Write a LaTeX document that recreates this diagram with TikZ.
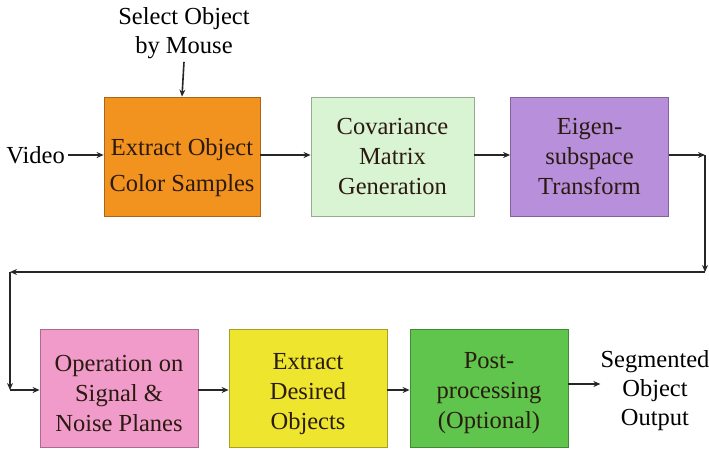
\documentclass[tikz,border=0pt]{standalone}
\usepackage{fontspec}
\setmainfont{Liberation Serif}
\usetikzlibrary{arrows.meta}
\definecolor{cOrange}{HTML}{F2921F}
\definecolor{cLight}{HTML}{D8F4D2}
\definecolor{cPurple}{HTML}{B88FDB}
\definecolor{cPink}{HTML}{F09BC9}
\definecolor{cYellow}{HTML}{EEE52E}
\definecolor{cGreen}{HTML}{5FC54D}
\definecolor{txt}{HTML}{2A1A10}
\tikzset{
  blk/.style={draw=#1!70!black, fill=#1, line width=0.8pt, minimum height=119pt,
    minimum width=158pt, inner sep=0pt},
  boxtxt/.style={align=center, inner sep=0pt, text=txt,
    font=\rmfamily\fontsize{24.5}{30}\selectfont},
  lbl/.style={align=center, inner sep=0pt, font=\rmfamily\fontsize{24.5}{29}\selectfont},
  arr/.style={line width=1.6pt, draw=black!85, -{Stealth[length=7pt,width=6pt]}},
}
\begin{document}
\begin{tikzpicture}[x=1pt,y=-1pt]
\useasboundingbox (0,0) rectangle (709,450);
\node[blk=cOrange, minimum width=156pt,
  label={[boxtxt, font=\rmfamily\fontsize{24.5}{36}\selectfont, yshift=-11pt]center:Extract Object\\Color Samples}] (b1) at (182,156.5) {};
\node[blk=cLight, minimum width=163pt,
  label={[boxtxt]center:Covariance\\Matrix\\Generation}] (b2) at (392.5,157) {};
\node[blk=cPurple,
  label={[boxtxt]center:Eigen-\\subspace\\Transform}] (b3) at (589.5,157) {};
\node[blk=cPink, minimum height=118pt,
  label={[boxtxt, yshift=-6pt]center:Operation on\\Signal \&\\Noise Planes}] (b4) at (119,388) {};
\node[blk=cYellow, minimum height=118pt,
  label={[boxtxt, yshift=-6pt]center:Extract\\Desired\\Objects}] (b5) at (308,388) {};
\node[blk=cGreen, minimum height=118pt,
  label={[boxtxt, yshift=-5pt]center:Post-\\processing\\(Optional)}] (b6) at (489,388) {};
\node[lbl, anchor=east] (vid) at (65,155) {Video};
\node[lbl] (sel) at (184,33) {Select Object\\by Mouse};
\node[lbl] (out) at (655,391) {Segmented\\Object\\Output};
\coordinate (c1) at (705,155);
\coordinate (c2) at (705,272);
\coordinate (c3) at (10,272);
\coordinate (c4) at (10,390);
\draw[arr] (vid.east) ++(3,0) -- (b1.west |- 0,155);
\draw[arr] (sel.south) ++(0,3) -- (b1.north);
\draw[arr] (b1.east |- 0,155) -- (b2.west |- 0,155);
\draw[arr] (b2.east |- 0,155) -- (b3.west |- 0,155);
\draw[arr] (b3.east |- c1) -- (c1);
\draw[arr] (c1) -- (c2);
\draw[arr] (c2) -- (c3);
\draw[arr] (c3) -- (c4);
\draw[arr] (c4) -- (b4.west |- c4);
\draw[arr] (b4.east |- c4) -- (b5.west |- c4);
\draw[arr] (b5.east |- c4) -- (b6.west |- c4);
\draw[arr] (b6.east |- 0,384) -- (out.west |- 0,384);
\end{tikzpicture}
\end{document}
